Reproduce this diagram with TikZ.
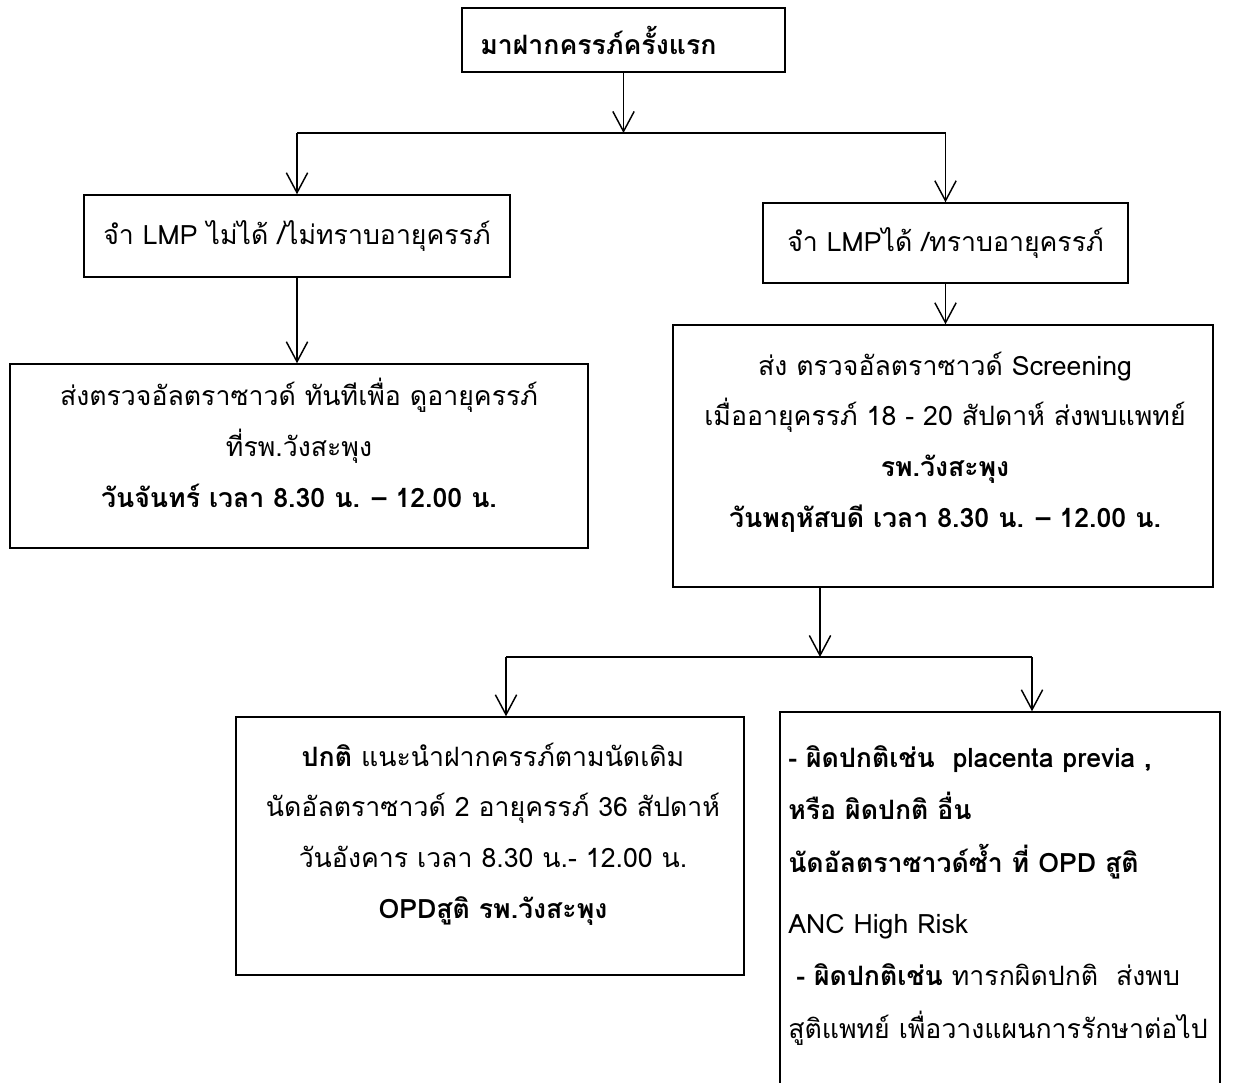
\documentclass[tikz,border=0pt]{standalone}
\usepackage{fontspec}
\newfontfamily\thaifont[Script=Thai]{Loma}
\usetikzlibrary{arrows.meta}

\tikzset{
  box/.style={draw, line width=1.1pt, inner sep=0pt},
  txt/.style={inner sep=0pt, align=center, font=\thaifont\fontsize{20}{38}\selectfont},
  arr/.style={line width=1.1pt, -{Straight Barb[length=15pt,width=16pt,line width=1.1pt]}},
  lin/.style={line width=1.1pt},
}

\begin{document}
\begin{tikzpicture}[x=0.75pt,y=0.75pt,yscale=-1,xscale=1]
\useasboundingbox (0,0) rectangle (1241,1082);

% Boxes
\node[box, minimum width=242.25pt, minimum height=48pt] (first) at (623.5,40) {};
\node[box, minimum width=319.5pt, minimum height=61.5pt] (nolmp) at (297,236) {};
\node[box, minimum width=273.75pt, minimum height=60pt] (haslmp) at (945.5,243) {};
\node[box, minimum width=433.5pt, minimum height=138pt] (usnow) at (299,456) {};
\node[box, minimum width=405pt, minimum height=196.5pt] (usscreen) at (943,456) {};
\node[box, minimum width=330pt, minimum height=291pt] (abnormal) at (1000,906) {};
\node[box, minimum width=381pt, minimum height=193.5pt] (normal) at (490,846) {};

% Text Node
\node[txt, anchor=west] (first-t) at (480,40) {\bfseries มาฝากครรภ์ครั้งแรก};
% Text Node
\node[txt] (nolmp-t) at (297,236) {จำ LMP ไม่ได้ /ไม่ทราบอายุครรภ์};
% Text Node
\node[txt] (haslmp-t) at (945.5,243) {จำ LMPได้ /ทราบอายุครรภ์};
% Text Node
\node[txt] (usnow-t) at (299,443) {ส่งตรวจอัลตราซาวด์ ทันทีเพื่อ ดูอายุครรภ์\\ ที่รพ.วังสะพุง\\ \textbf{วันจันทร์ เวลา 8.30 น. – 12.00 น.}};
% Text Node
\node[txt] (usscreen-t) at (945,442) {ส่ง ตรวจอัลตราซาวด์ Screening\\ เมื่ออายุครรภ์ 18 - 20 สัปดาห์ ส่งพบแพทย์\\ \textbf{รพ.วังสะพุง}\\ \textbf{วันพฤหัสบดี เวลา 8.30 น. – 12.00 น.}};
% Text Node
\node[txt] (normal-t) at (493,834) {\textbf{ปกติ} แนะนำฝากครรภ์ตามนัดเดิม\\ นัดอัลตราซาวด์ 2 อายุครรภ์ 36 สัปดาห์\\ วันอังคาร เวลา 8.30 น.- 12.00 น.\\ \textbf{OPDสูติ รพ.วังสะพุง}};
% Text Node
\node[txt, align=left, anchor=north west, font=\thaifont\fontsize{20}{39.5}\selectfont] (abnormal-t) at (788,745) {\textbf{- ผิดปกติเช่น\ \ placenta previa ,}\\ \textbf{หรือ ผิดปกติ อื่น}\\ \textbf{นัดอัลตราซาวด์ซ้ำ ที่ OPD สูติ}\\[6pt] ANC High Risk\\ \hspace*{6pt}\textbf{- ผิดปกติเช่น} ทารกผิดปกติ\ \ ส่งพบ\\ สูติแพทย์ เพื่อวางแผนการรักษาต่อไป};

% Split points
\coordinate (split1) at (623.5,133);
\coordinate (split2) at (820,657);
\coordinate (toleft) at (506,657);
\coordinate (toright) at (1032,657);

%Straight Lines
\draw[arr] (first) -- (split1);
\draw[lin] (split1 -| nolmp) -- (split1 -| haslmp);
\draw[arr] (split1 -| nolmp) -- (nolmp);
\draw[arr] (split1 -| haslmp) -- (haslmp);
\draw[arr] (nolmp.south) -- (nolmp.south |- usnow.north);
\draw[arr] (haslmp.south) -- (haslmp.south |- usscreen.north);
%Straight Lines
\draw[arr] (split2 |- usscreen.south) -- (split2);
\draw[lin] (toleft) -- (toright);
\draw[arr] (toleft) -- (toleft |- normal.north);
\draw[arr] (toright) -- (toright |- abnormal.north);

\end{tikzpicture}
\end{document}
